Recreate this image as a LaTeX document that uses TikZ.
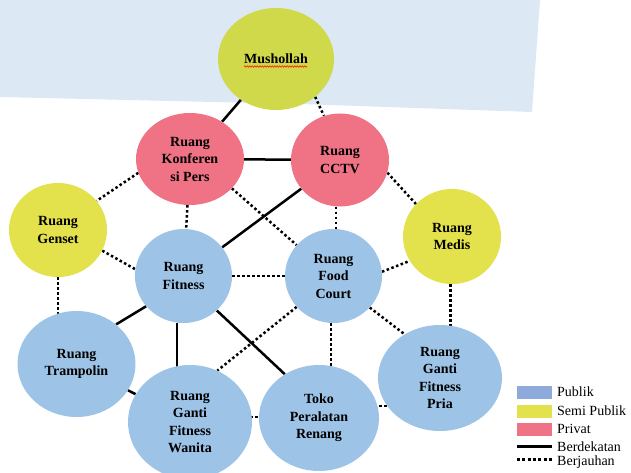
\documentclass[tikz,border=0pt]{standalone}
\usepackage{fontspec}
\setmainfont{Liberation Serif}
\usetikzlibrary{shapes.geometric,backgrounds,calc,decorations.pathmorphing}
\definecolor{pubc}{HTML}{9DC3E6}
\definecolor{semc}{HTML}{E4E24C}
\definecolor{privc}{HTML}{EF7385}
\definecolor{musc}{HTML}{D0D94A}
\definecolor{bandc}{HTML}{DCE8F3}
\definecolor{legpub}{HTML}{8EAADB}
\begin{document}
\begin{tikzpicture}[x=1pt,y=-1pt,
  room/.style={ellipse, inner sep=0pt, align=center,
    font=\bfseries\fontsize{14}{17.5}\selectfont},
  sz/.style 2 args={minimum width=#1pt, minimum height=#2pt},
  near/.style={line width=2.5pt},
  far/.style={line width=2.5pt, dash pattern=on 2.5pt off 2.5pt},
  swatch/.style={rectangle, inner sep=0pt, minimum width=35pt, minimum height=13pt},
  legtext/.style={anchor=west, inner sep=0pt, font=\fontsize{14}{16}\selectfont}]
\useasboundingbox (0,0) rectangle (631,473);

% rooms
\node[room, sz={116}{102}, fill=musc] (mus) at (276,59) {Mushollah};
\node[room, sz={108}{92}, fill=privc] (konf) at (190,159) {Ruang\\Konferen\\si Pers};
\node[room, sz={98}{93}, fill=privc] (cctv) at (340,160) {Ruang\\CCTV};
\node[room, sz={98}{94}, fill=semc] (gen) at (58,230) {Ruang\\Genset};
\node[room, sz={98}{95}, fill=semc] (med) at (452,236.5) {Ruang\\Medis};
\node[room, sz={97}{94}, fill=pubc] (fit) at (183.5,276) {Ruang\\Fitness};
\node[room, sz={97}{94}, fill=pubc] (fc) at (333.5,276) {Ruang\\Food\\Court};
\node[room, sz={118}{106}, fill=pubc] (tramp) at (76.5,364) {Ruang\\Trampolin};
\node[room, sz={124}{114}, fill=pubc] (wan) at (190,422) {Ruang\\Ganti\\Fitness\\Wanita};
\node[room, sz={120}{106}, fill=pubc] (toko) at (319,418) {Toko\\Peralatan\\Renang};
\node[room, sz={124}{106}, fill=pubc] (pria) at (440,378) {Ruang\\Ganti\\Fitness\\Pria};

\draw[red, line width=0.5pt, decorate, decoration={snake, amplitude=0.7pt, segment length=2.5pt}]
  ($(mus.center)+(-32,7.5)$) -- ($(mus.center)+(31,7.5)$);

\begin{pgfonlayer}{background}
  \fill[bandc] (0,0) -- (540,0) -- (532,112) -- (300,104) -- (0,97) -- cycle;
  % Berdekatan
  \draw[near] (mus) -- (konf);
  \draw[near] (konf) -- (cctv);
  \draw[near] (cctv) -- (fit);
  \draw[near] (fit.219) -- (tramp.45);
  \draw[near] (fit.262) -- (fit.262 |- wan.center);
  \draw[near] (fit.314) -- (toko.128);
  \draw[near] (tramp) -- (wan);
  % Berjauhan
  \draw[far] (mus.316) -- (cctv.110);
  \draw[far] (konf.195) -- (gen.37);
  \draw[far] (konf) -- (fit);
  \draw[far] (konf.325) -- (fc.140);
  \draw[far] (cctv.265) -- (cctv.265 |- fc.center);
  \draw[far] (cctv.345) -- (med.138);
  \draw[far] (gen.335) -- (fit.172);
  \draw[far] (gen.south) -- (gen.south |- tramp.center);
  \draw[far] (fit) -- (fc);
  \draw[far] (fc.5) -- (med.210);
  \draw[far] (med.268) -- (med.268 |- pria.center);
  \draw[far] (fc.220) -- (wan.62);
  \draw[far] (fc.267) -- (fc.267 |- toko.center);
  \draw[far] (fc.319) -- (pria.129);
  \draw[far] ($(wan.center)+(0,-5)$) -- ($(toko.center)+(0,-1)$);
  \draw[far] ($(toko.center)+(0,-12)$) -- ($(pria.center)+(0,28)$);
\end{pgfonlayer}

% legend
\node[swatch, fill=legpub] (lp) at (534.5,392) {};
\node[legtext] (lpt) at (557,392) {Publik};
\node[swatch, fill=semc] (ls) at (534.5,411) {};
\node[legtext] (lst) at (557,411) {Semi Publik};
\node[swatch, fill=privc] (lv) at (534.5,429) {};
\node[legtext] (lvt) at (557,429) {Privat};
\coordinate (la1) at (517,446.5);
\coordinate (la2) at (552,446.5);
\draw[line width=3.3pt] (la1) -- (la2);
\node[legtext] (lat) at (557,446.5) {Berdekatan};
\coordinate (lb1) at (517,459.5);
\coordinate (lb2) at (552,459.5);
\draw[line width=3pt, dash pattern=on 3pt off 2.3pt] (lb1) -- (lb2);
\node[legtext] (lbt) at (557,462) {Berjauhan};
\end{tikzpicture}
\end{document}
